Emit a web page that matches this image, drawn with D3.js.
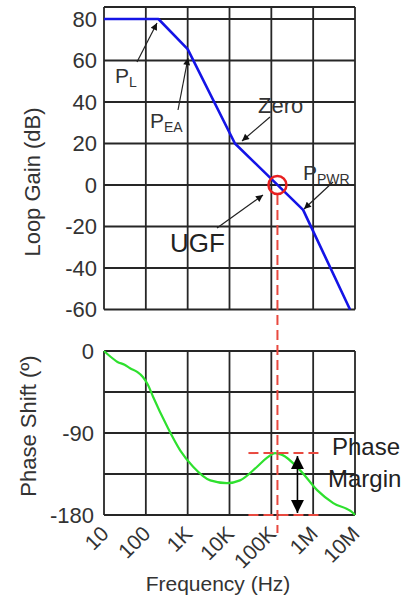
<!DOCTYPE html>
<html>
<head>
<meta charset="utf-8">
<script src="https://cdn.jsdelivr.net/npm/d3@7"></script>
<style>
  html, body { margin: 0; padding: 0; background: #fff; }
  svg { display: block; font-family: "Liberation Sans", Arial, sans-serif; }
</style>
</head>
<body>
<svg id="chart" width="418" height="601"></svg>
<script>
// ---------- data ----------
const freqTicks = [10, 100, 1e3, 1e4, 1e5, 1e6, 1e7];
const freqTickLabels = ["10", "100", "1K", "10K", "100K", "1M", "10M"];

const gainTicks = [-60, -40, -20, 0, 20, 40, 60, 80];
const gainFreq = [10, 200, 1000, 13500, 575000, 7600000];
const gainDb = [80, 80, 65.5, 20, -12, -60];

const phaseGrid = [0, -45, -90, -135, -180];
const phaseTickLabels = [0, -90, -180];
const phaseFreq = [10, 14.6, 21, 31, 42, 62, 85, 112, 148, 324, 661, 1350, 3470, 8710, 17800, 45700, 79400, 123000, 182000, 490000, 1260000, 3020000, 9120000, 10000000];
const phaseDeg = [0, -6.6, -12, -15, -19, -23, -28.5, -37, -50, -83, -109, -127, -142, -145, -142, -127, -117, -112, -114, -131, -153, -167, -178, -180];

const ugfFreq = 140000;
const phaseAtUgf = -112;

// ---------- scales ----------
const svg = d3.select("#chart");
const x = d3.scaleLog().domain([10, 1e7]).range([104, 355]);
const yG = d3.scaleLinear().domain([-60, 80]).range([309.5, 19]);
const yP = d3.scaleLinear().domain([-180, 0]).range([515, 351]);

const gridColor = "#262626";

// markers
const defs = svg.append("defs");
defs.append("marker").attr("id", "ah").attr("viewBox", "0 0 10 10")
  .attr("refX", 10).attr("refY", 5).attr("markerWidth", 9).attr("markerHeight", 7)
  .attr("markerUnits", "userSpaceOnUse").attr("orient", "auto")
  .append("path").attr("d", "M0,0 L10,5 L0,10 Z").attr("fill", "#111");
defs.append("marker").attr("id", "ahBig").attr("viewBox", "0 0 10 10")
  .attr("refX", 10).attr("refY", 5).attr("markerWidth", 13).attr("markerHeight", 13)
  .attr("markerUnits", "userSpaceOnUse").attr("orient", "auto")
  .append("path").attr("d", "M0,0 L10,5 L0,10 Z").attr("fill", "#000");

// ---------- top chart: gain ----------
const gTop = svg.append("g");
const topFrame = yG(80) - 12;
gTop.selectAll("line.hg").data(gainTicks).join("line")
  .attr("x1", x(10)).attr("x2", x(1e7))
  .attr("y1", d => yG(d)).attr("y2", d => yG(d))
  .attr("stroke", gridColor).attr("stroke-width", 1.8);
gTop.append("line").attr("x1", x(10)).attr("x2", x(1e7))
  .attr("y1", topFrame).attr("y2", topFrame)
  .attr("stroke", gridColor).attr("stroke-width", 1.8);
gTop.selectAll("line.vg").data(freqTicks).join("line")
  .attr("x1", d => x(d)).attr("x2", d => x(d))
  .attr("y1", topFrame).attr("y2", yG(-60))
  .attr("stroke", gridColor).attr("stroke-width", 1.8);
gTop.selectAll("text.yt").data(gainTicks).join("text")
  .attr("x", 97).attr("y", d => yG(d)).attr("dy", "0.36em")
  .attr("text-anchor", "end").attr("font-size", 22).attr("fill", "#333")
  .text(d => d);
svg.append("text").attr("transform", `translate(40,182) rotate(-90)`)
  .attr("text-anchor", "middle").attr("font-size", 22).attr("fill", "#333")
  .text("Loop Gain (dB)");

const gainData = gainFreq.map((f, i) => [f, gainDb[i]]);
gTop.append("path").datum(gainData)
  .attr("d", d3.line().x(d => x(d[0])).y(d => yG(d[1])))
  .attr("fill", "none").attr("stroke", "#1414e6").attr("stroke-width", 2.6)
  .attr("stroke-linejoin", "round");

// ---------- bottom chart: phase ----------
const gBot = svg.append("g");
gBot.selectAll("line.hg").data(phaseGrid).join("line")
  .attr("x1", x(10)).attr("x2", x(1e7))
  .attr("y1", d => yP(d)).attr("y2", d => yP(d))
  .attr("stroke", gridColor).attr("stroke-width", 1.8);
gBot.selectAll("line.vg").data(freqTicks).join("line")
  .attr("x1", d => x(d)).attr("x2", d => x(d))
  .attr("y1", yP(0)).attr("y2", yP(-180))
  .attr("stroke", gridColor).attr("stroke-width", 1.8);
gBot.selectAll("text.yt").data(phaseTickLabels).join("text")
  .attr("x", 94).attr("y", d => yP(d)).attr("dy", "0.36em")
  .attr("text-anchor", "end").attr("font-size", 22).attr("fill", "#333")
  .text(d => d);
svg.append("text").attr("transform", `translate(36,426) rotate(-90)`)
  .attr("text-anchor", "middle").attr("font-size", 22).attr("fill", "#333")
  .text("Phase Shift (º)");

gBot.selectAll("text.xt").data(freqTicks).join("text")
  .attr("transform", d => `translate(${x(d) + 6},${yP(-180) + 20}) rotate(-45)`)
  .attr("text-anchor", "end").attr("font-size", 21).attr("fill", "#333")
  .text((d, i) => freqTickLabels[i]);
svg.append("text").attr("x", 218).attr("y", 591)
  .attr("text-anchor", "middle").attr("font-size", 21).attr("fill", "#333")
  .text("Frequency (Hz)");

const phaseData = phaseFreq.map((f, i) => [f, phaseDeg[i]]);
gBot.append("path").datum(phaseData)
  .attr("d", d3.line().x(d => x(d[0])).y(d => yP(d[1])).curve(d3.curveMonotoneX))
  .attr("fill", "none").attr("stroke", "#2ee02e").attr("stroke-width", 2.2);

// ---------- UGF / phase margin annotations ----------
const ux = x(ugfFreq);
const red = "#e8493f";
svg.append("line").attr("x1", ux).attr("x2", ux)
  .attr("y1", yG(0) + 10).attr("y2", yP(-180) + 18)
  .attr("stroke", red).attr("stroke-width", 2).attr("stroke-dasharray", "10,5");
[phaseAtUgf, -180].forEach(p => {
  svg.append("line").attr("x1", ux - 29).attr("x2", ux + 45)
    .attr("y1", yP(p)).attr("y2", yP(p))
    .attr("stroke", red).attr("stroke-width", 2).attr("stroke-dasharray", "10,5");
});
svg.append("circle").attr("cx", ux).attr("cy", yG(0)).attr("r", 9)
  .attr("fill", "none").attr("stroke", "#e82020").attr("stroke-width", 2.5);

const ax = ux + 20;
svg.append("line").attr("x1", ax).attr("x2", ax)
  .attr("y1", (yP(phaseAtUgf) + yP(-180)) / 2).attr("y2", yP(phaseAtUgf) + 3)
  .attr("stroke", "#000").attr("stroke-width", 1.6).attr("marker-end", "url(#ahBig)");
svg.append("line").attr("x1", ax).attr("x2", ax)
  .attr("y1", (yP(phaseAtUgf) + yP(-180)) / 2).attr("y2", yP(-180) - 2)
  .attr("stroke", "#000").attr("stroke-width", 1.6).attr("marker-end", "url(#ahBig)");

svg.append("text").attr("x", 332).attr("y", 455).attr("font-size", 24).attr("fill", "#222").text("Phase");
svg.append("text").attr("x", 328).attr("y", 487).attr("font-size", 24).attr("fill", "#222").text("Margin");

// ---------- pole / zero annotations ----------
function arrow(x1, y1, x2, y2) {
  svg.append("line").attr("x1", x1).attr("y1", y1).attr("x2", x2).attr("y2", y2)
    .attr("stroke", "#222").attr("stroke-width", 1.2).attr("marker-end", "url(#ah)");
}
function pLabel(px, py, sub) {
  const t = svg.append("text").attr("x", px).attr("y", py).attr("font-size", 21).attr("fill", "#333");
  t.append("tspan").text("P");
  t.append("tspan").attr("font-size", 14).attr("dy", 4).text(sub);
}
arrow(137, 62, 157, 23);
pLabel(115, 83, "L");
arrow(178, 110, 188, 58);
pLabel(150, 128, "EA");
arrow(270, 117, 242, 141);
svg.append("text").attr("x", 258).attr("y", 113).attr("font-size", 22).attr("fill", "#333").text("Zero");
arrow(333, 182, 304, 209);
pLabel(303, 180, "PWR");
arrow(217, 228, 263, 195);
svg.append("text").attr("x", 170).attr("y", 252).attr("font-size", 26).attr("fill", "#222").text("UGF");
</script>
</body>
</html>
